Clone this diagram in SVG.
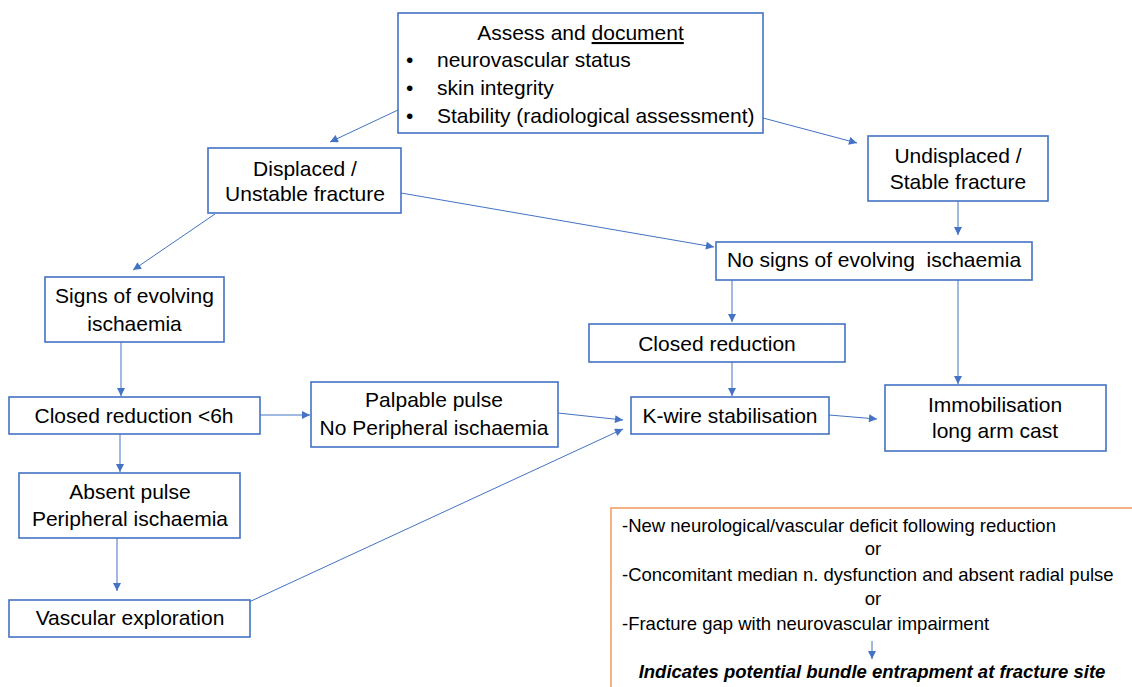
<svg xmlns="http://www.w3.org/2000/svg" width="1132" height="687" viewBox="0 0 1132 687">
<defs>
<marker id="ah" viewBox="0 0 10 10" refX="10" refY="5" markerWidth="9" markerHeight="8" markerUnits="userSpaceOnUse" orient="auto">
<path d="M0,0 L10,5 L0,10 z" fill="#4472C4"/>
</marker>
</defs>
<style>
.box{fill:#fff;stroke:#4472C4;stroke-width:1.6}
.obox{fill:#fff;stroke:#F4B183;stroke-width:2}
.t{font-family:"Liberation Sans",Arial,sans-serif;font-size:21px;fill:#000}
.c{text-anchor:middle}
.s{font-family:"Liberation Sans",Arial,sans-serif;font-size:18.5px;fill:#000}
.b{font-weight:bold;font-style:italic}
.ln{stroke:#4472C4;stroke-width:1;fill:none;marker-end:url(#ah)}
</style>
<rect width="1132" height="687" fill="#fff"/>
<g id="connectors">
<line class="ln" x1="398" y1="110" x2="330" y2="142"/>
<line class="ln" x1="763" y1="118" x2="857" y2="143"/>
<line class="ln" x1="215" y1="214" x2="133" y2="270"/>
<line class="ln" x1="401" y1="193" x2="714" y2="247"/>
<line class="ln" x1="958" y1="201" x2="958" y2="235"/>
<line class="ln" x1="121" y1="342" x2="121" y2="396"/>
<line class="ln" x1="260" y1="415" x2="310" y2="415"/>
<line class="ln" x1="120" y1="434" x2="120" y2="472"/>
<line class="ln" x1="117" y1="538" x2="117" y2="591"/>
<line class="ln" x1="249" y1="602" x2="623" y2="429"/>
<line class="ln" x1="558" y1="413" x2="623" y2="420"/>
<line class="ln" x1="732" y1="280" x2="732" y2="322"/>
<line class="ln" x1="732" y1="362" x2="732" y2="396"/>
<line class="ln" x1="958" y1="280" x2="958" y2="384"/>
<line class="ln" x1="829" y1="415" x2="877" y2="419"/>
</g>
<g id="assess">
<rect class="box" x="398" y="13" width="365" height="120"/>
<text class="t c" x="580.5" y="40">Assess and <tspan text-decoration="underline">document</tspan></text>
<text class="t" x="406" y="67">•</text>
<text class="t" x="437" y="67">neurovascular status</text>
<text class="t" x="406" y="95">•</text>
<text class="t" x="437" y="95">skin integrity</text>
<text class="t" x="406" y="123">•</text>
<text class="t" x="437" y="123">Stability (radiological assessment)</text>
</g>
<g id="displaced">
<rect class="box" x="208" y="148" width="193" height="65"/>
<text class="t c" x="305" y="176">Displaced /</text>
<text class="t c" x="305" y="201">Unstable fracture</text>
</g>
<g id="undisplaced">
<rect class="box" x="868" y="136" width="180" height="65"/>
<text class="t c" x="958" y="163">Undisplaced /</text>
<text class="t c" x="958" y="189">Stable fracture</text>
</g>
<g id="nosigns">
<rect class="box" x="716" y="242" width="316" height="38"/>
<text class="t c" x="874" y="267" xml:space="preserve">No signs of evolving  ischaemia</text>
</g>
<g id="signs">
<rect class="box" x="45" y="277" width="179" height="65"/>
<text class="t c" x="134.5" y="303">Signs of evolving</text>
<text class="t c" x="134.5" y="331">ischaemia</text>
</g>
<g id="closed6h">
<rect class="box" x="9" y="397" width="251" height="37"/>
<text class="t c" x="134" y="423">Closed reduction &lt;6h</text>
</g>
<g id="palpable">
<rect class="box" x="311" y="382" width="247" height="65"/>
<text class="t c" x="434" y="407">Palpable pulse</text>
<text class="t c" x="434" y="435">No Peripheral ischaemia</text>
</g>
<g id="closed">
<rect class="box" x="589" y="324" width="256" height="38"/>
<text class="t c" x="717" y="351">Closed reduction</text>
</g>
<g id="kwire">
<rect class="box" x="631" y="397" width="198" height="37"/>
<text class="t c" x="730" y="423">K-wire stabilisation</text>
</g>
<g id="immob">
<rect class="box" x="885" y="385" width="221" height="66"/>
<text class="t c" x="995" y="412">Immobilisation</text>
<text class="t c" x="995" y="438">long arm cast</text>
</g>
<g id="absent">
<rect class="box" x="19" y="473" width="221" height="65"/>
<text class="t c" x="130" y="499">Absent pulse</text>
<text class="t c" x="130" y="526">Peripheral ischaemia</text>
</g>
<g id="vascular">
<rect class="box" x="9" y="600" width="241" height="37"/>
<text class="t c" x="130" y="625">Vascular exploration</text>
</g>
<g id="note">
<rect class="obox" x="611" y="508" width="540" height="200"/>
<text class="s" x="622" y="532">-New neurological/vascular deficit following reduction</text>
<text class="s c" x="873" y="555">or</text>
<text class="s" x="622" y="581">-Concomitant median n. dysfunction and absent radial pulse</text>
<text class="s c" x="873" y="605">or</text>
<text class="s" x="622" y="630">-Fracture gap with neurovascular impairment</text>
<line class="ln" x1="872" y1="641" x2="872" y2="659"/>
<text class="s c b" x="872" y="678">Indicates potential bundle entrapment at fracture site</text>
</g>
</svg>
